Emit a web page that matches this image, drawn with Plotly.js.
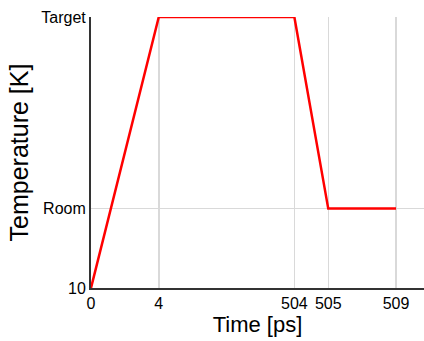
<!DOCTYPE html>
<html>
<head>
<meta charset="utf-8">
<script src="https://cdn.plot.ly/plotly-3.0.1.min.js"></script>
<style>html,body{margin:0;padding:0;background:#fff;}#chart{width:424px;height:341px;}</style>
</head>
<body>
<div id="chart"></div>
<script>
// Time points (ps) and their positions on the broken time axis
const timeLabels = ['0', '4', '504', '505', '509'];
const axisPositions = [0, 4, 12, 14, 18];
// Temperature (K) at each time point
const temperatures = [10, 1000, 1000, 300, 300];
// Temperature tick values and labels
const tempTickValues = [10, 300, 1000];
const tempTickLabels = ['10', 'Room', 'Target'];

const trace = {
  x: axisPositions,
  y: temperatures,
  mode: 'lines',
  type: 'scatter',
  line: {color: '#ff0000', width: 2.5},
  hoverinfo: 'skip'
};

const layout = {
  width: 424,
  height: 341,
  margin: {l: 91, r: 0, t: 17, b: 53},
  paper_bgcolor: '#ffffff',
  plot_bgcolor: '#ffffff',
  showlegend: false,
  font: {family: 'Liberation Sans, Arial, sans-serif', color: '#000'},
  xaxis: {
    range: [0, 19.65],
    tickvals: axisPositions,
    ticktext: timeLabels,
    tickfont: {size: 16, color: '#000'},
    showgrid: true,
    gridcolor: '#d9d9d9',
    gridwidth: 1.5,
    zeroline: false,
    showline: true,
    linecolor: '#333333',
    linewidth: 2,
    ticks: '',
    title: {text: 'Time [ps]', font: {size: 22, color: '#000'}, standoff: 4}
  },
  yaxis: {
    range: [10, 1000],
    tickvals: tempTickValues,
    ticktext: tempTickLabels,
    tickfont: {size: 16, color: '#000'},
    showgrid: true,
    gridcolor: '#d9d9d9',
    gridwidth: 1.5,
    zeroline: false,
    showline: true,
    linecolor: '#333333',
    linewidth: 2,
    ticks: '',
    title: {text: 'Temperature [K]', font: {size: 25, color: '#000'}, standoff: 6}
  }
};

Plotly.newPlot('chart', [trace], layout, {displayModeBar: false, staticPlot: true});
</script>
</body>
</html>
